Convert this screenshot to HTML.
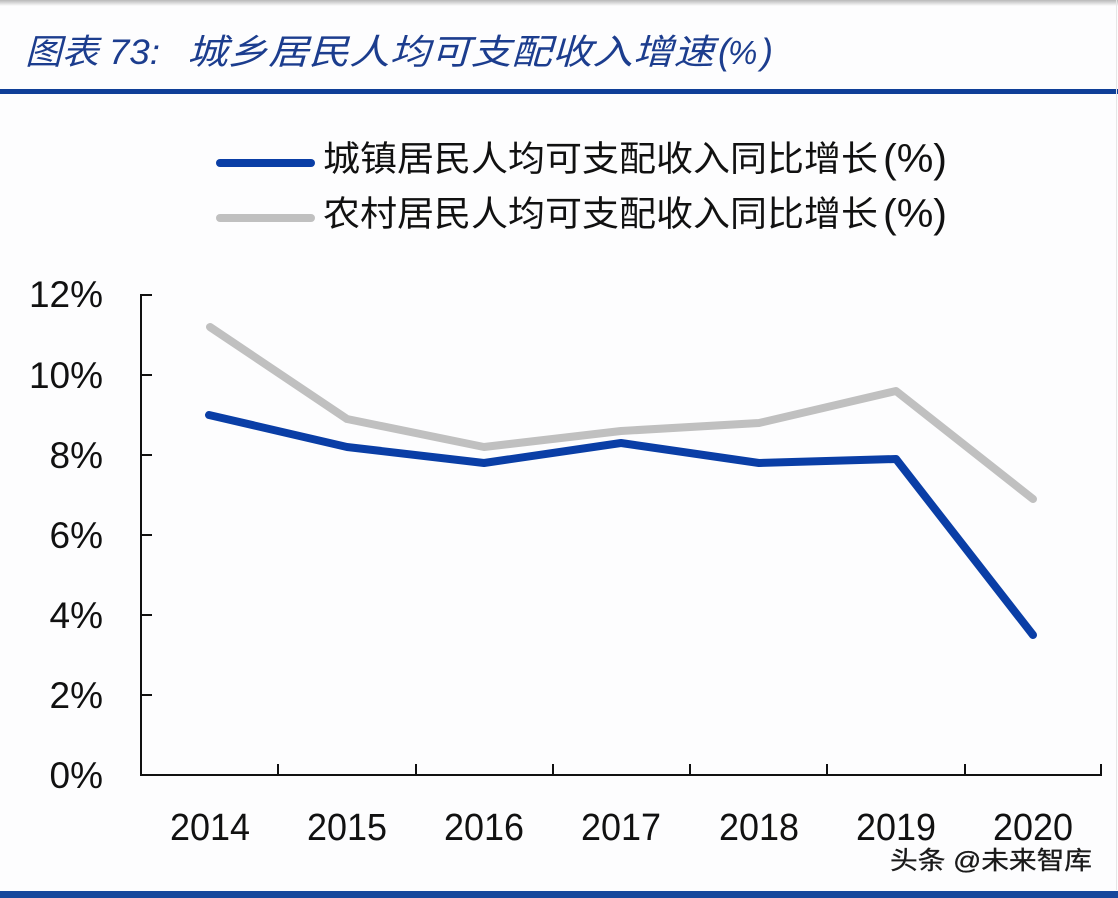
<!DOCTYPE html>
<html><head><meta charset="utf-8"><style>
html,body{margin:0;padding:0;background:#fdfdfe;}
svg{display:block;}
</style></head><body>
<svg width="1118" height="898" viewBox="0 0 1118 898" xmlns="http://www.w3.org/2000/svg">
<defs>
<linearGradient id="tg" x1="0" y1="0" x2="0" y2="1">
<stop offset="0" stop-color="#b8b8b8"/><stop offset="1" stop-color="#fdfdfe"/>
</linearGradient>
</defs>
<rect x="0" y="0" width="1118" height="898" fill="#fdfdfe"/>
<rect x="0" y="0" width="1118" height="6" fill="url(#tg)"/>
<!-- title -->
<g font-family="'Liberation Sans','Noto Sans CJK SC',sans-serif" fill="#1c3d8e" font-style="italic" font-size="35">
<text x="25" y="64" textLength="135" lengthAdjust="spacingAndGlyphs">图表 73:</text>
<text x="187" y="64" textLength="527" lengthAdjust="spacingAndGlyphs">城乡居民人均可支配收入增速</text>
<text x="718" y="64" font-size="36">(</text>
<text x="728" y="64" font-size="33" font-family="'Liberation Sans',sans-serif">%</text>
<text x="761" y="64" font-size="36">)</text>
</g>
<rect x="0" y="89" width="1118" height="5" fill="#0f3f98"/>
<!-- legend -->
<line x1="220" y1="163" x2="311" y2="163" stroke="#0a3ea6" stroke-width="8" stroke-linecap="round"/>
<line x1="220" y1="218" x2="311" y2="218" stroke="#c0c0c0" stroke-width="8" stroke-linecap="round"/>
<g font-family="'Liberation Sans','Noto Sans CJK SC',sans-serif" fill="#111">
<text x="323" y="171" font-size="35" textLength="555" lengthAdjust="spacingAndGlyphs">城镇居民人均可支配收入同比增长</text>
<text x="883" y="172" font-size="40" textLength="64" lengthAdjust="spacingAndGlyphs">(%)</text>
<text x="323" y="226" font-size="35" textLength="555" lengthAdjust="spacingAndGlyphs">农村居民人均可支配收入同比增长</text>
<text x="883" y="227" font-size="40" textLength="64" lengthAdjust="spacingAndGlyphs">(%)</text>
</g>
<!-- axes -->
<g stroke="#111" stroke-width="2" fill="none">
<line x1="141" y1="294" x2="141" y2="776"/>
<line x1="140" y1="775" x2="1102" y2="775"/>
<line x1="141" y1="295" x2="152" y2="295"/>
<line x1="141" y1="375" x2="152" y2="375"/>
<line x1="141" y1="455" x2="152" y2="455"/>
<line x1="141" y1="535" x2="152" y2="535"/>
<line x1="141" y1="615" x2="152" y2="615"/>
<line x1="141" y1="695" x2="152" y2="695"/>
<line x1="278" y1="764" x2="278" y2="775"/>
<line x1="416" y1="764" x2="416" y2="775"/>
<line x1="553" y1="764" x2="553" y2="775"/>
<line x1="690" y1="764" x2="690" y2="775"/>
<line x1="827" y1="764" x2="827" y2="775"/>
<line x1="965" y1="764" x2="965" y2="775"/>
<line x1="1101" y1="764" x2="1101" y2="775"/>
</g>
<!-- y labels -->
<g font-family="'Liberation Sans',sans-serif" font-size="37" fill="#111" text-anchor="end">
<text x="103" y="307">12%</text>
<text x="103" y="388">10%</text>
<text x="103" y="468">8%</text>
<text x="103" y="548">6%</text>
<text x="103" y="628">4%</text>
<text x="103" y="708">2%</text>
<text x="103" y="788">0%</text>
</g>
<!-- x labels -->
<g font-family="'Liberation Sans',sans-serif" font-size="38" fill="#111">
<text x="170" y="840" textLength="80" lengthAdjust="spacingAndGlyphs">2014</text>
<text x="307" y="840" textLength="80" lengthAdjust="spacingAndGlyphs">2015</text>
<text x="444" y="840" textLength="80" lengthAdjust="spacingAndGlyphs">2016</text>
<text x="581" y="840" textLength="80" lengthAdjust="spacingAndGlyphs">2017</text>
<text x="719" y="840" textLength="80" lengthAdjust="spacingAndGlyphs">2018</text>
<text x="856" y="840" textLength="80" lengthAdjust="spacingAndGlyphs">2019</text>
<text x="993" y="840" textLength="80" lengthAdjust="spacingAndGlyphs">2020</text>
</g>
<!-- series -->
<polyline fill="none" stroke="#c0c0c0" stroke-width="8" stroke-linejoin="round" stroke-linecap="round"
 points="210,327 347,419 484,447 621,431 759,423 896,391 1033,499"/>
<polyline fill="none" stroke="#0a3ea6" stroke-width="8" stroke-linejoin="round" stroke-linecap="round"
 points="209,415 347,447 484,463 621,443 759,463 896,459 1033,635"/>
<!-- watermark -->
<text x="890" y="869" font-family="'Liberation Sans','Noto Sans CJK SC',sans-serif" font-size="25" fill="#1a1a1a" stroke="#1a1a1a" stroke-width="0.3" textLength="202" lengthAdjust="spacingAndGlyphs">头条 @未来智库</text>
<line x1="1116.5" y1="0" x2="1116.5" y2="890" stroke="#e6e6e6" stroke-width="1"/>
<rect x="0" y="891" width="1118" height="7" fill="#16479c"/>
</svg>
</body></html>
